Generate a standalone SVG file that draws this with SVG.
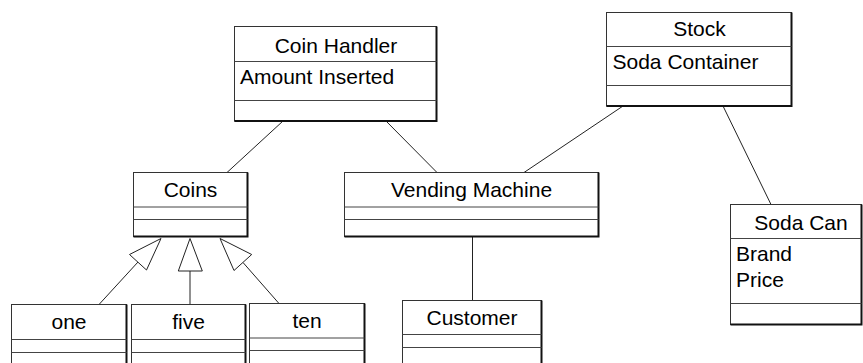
<svg xmlns="http://www.w3.org/2000/svg" width="863" height="363" viewBox="0 0 863 363">
  <style>
    .box { fill: #fff; stroke: #333; stroke-width: 1; }
    .edge { stroke: #111; stroke-width: 2; fill: none; }
    .div { stroke: #444; stroke-width: 1; }
    .t { font-family: "Liberation Sans", Arial, sans-serif; font-size: 21px; fill: #000; }
    .c { text-anchor: middle; }
    .link { stroke: #222; stroke-width: 1; fill: none; }
    .gen { fill: #fff; stroke: #222; stroke-width: 1; }
  </style>
  <rect width="863" height="363" fill="#fff"/>

  <!-- connectors -->
  <g id="connectors">
    <line class="link" x1="283" y1="121" x2="227" y2="172.5"/>
    <line class="link" x1="386" y1="121" x2="437" y2="172.5"/>
    <line class="link" x1="623" y1="106" x2="524" y2="172.5"/>
    <line class="link" x1="723" y1="106" x2="771" y2="204.5"/>
    <line class="link" x1="472.5" y1="237" x2="472.5" y2="300.5"/>
    <!-- generalizations to Coins -->
    <line class="link" x1="99" y1="304.5" x2="138" y2="262"/>
    <polygon class="gen" points="161,238.5 129.5,254.5 146.5,270"/>
    <line class="link" x1="190" y1="304.5" x2="190" y2="271"/>
    <polygon class="gen" points="190,238.5 178.3,271 202.3,271"/>
    <line class="link" x1="279" y1="303.5" x2="243" y2="262.5"/>
    <polygon class="gen" points="220,238.5 251.7,254.5 234,270.5"/>
  </g>

  <g id="coin-handler">
    <rect class="box" x="234.5" y="26.5" width="202" height="94.5"/>
    <polyline class="edge" points="234.5,121 436.5,121 436.5,26.5"/>
    <line class="div" x1="234.5" y1="61.5" x2="436.5" y2="61.5"/>
    <line class="div" x1="234.5" y1="100.5" x2="436.5" y2="100.5"/>
    <text class="t c" x="336" y="53">Coin Handler</text>
    <text class="t" x="240" y="84">Amount Inserted</text>
  </g>

  <g id="stock">
    <rect class="box" x="606.5" y="12.5" width="185" height="93.5"/>
    <polyline class="edge" points="606.5,106 791.5,106 791.5,12.5"/>
    <line class="div" x1="606.5" y1="46.5" x2="791.5" y2="46.5"/>
    <line class="div" x1="606.5" y1="85.5" x2="791.5" y2="85.5"/>
    <text class="t c" x="699.5" y="36">Stock</text>
    <text class="t" x="612.5" y="69">Soda Container</text>
  </g>

  <g id="coins">
    <rect class="box" x="133.5" y="172.5" width="114" height="64"/>
    <polyline class="edge" points="133.5,236.5 247.5,236.5 247.5,172.5"/>
    <line class="div" x1="133.5" y1="207" x2="247.5" y2="207"/>
    <line class="div" x1="133.5" y1="219.5" x2="247.5" y2="219.5"/>
    <text class="t c" x="190.5" y="197">Coins</text>
  </g>

  <g id="vending-machine">
    <rect class="box" x="344.5" y="172.5" width="254" height="64"/>
    <polyline class="edge" points="344.5,236.5 598.5,236.5 598.5,172.5"/>
    <line class="div" x1="344.5" y1="207" x2="598.5" y2="207"/>
    <line class="div" x1="344.5" y1="219.5" x2="598.5" y2="219.5"/>
    <text class="t c" x="471.5" y="197">Vending Machine</text>
  </g>

  <g id="soda-can">
    <rect class="box" x="730.5" y="204.5" width="131" height="120"/>
    <polyline class="edge" points="730.5,324.5 861.5,324.5 861.5,204.5"/>
    <line class="div" x1="730.5" y1="238.5" x2="861.5" y2="238.5"/>
    <line class="div" x1="730.5" y1="303.5" x2="861.5" y2="303.5"/>
    <text class="t c" x="801" y="229.5">Soda Can</text>
    <text class="t" x="736" y="261">Brand</text>
    <text class="t" x="736" y="286.5">Price</text>
  </g>

  <g id="customer">
    <rect class="box" x="402.5" y="300.5" width="139" height="80"/>
    <line class="edge" x1="541.5" y1="300.5" x2="541.5" y2="380"/>
    <line class="div" x1="402.5" y1="334.5" x2="541.5" y2="334.5"/>
    <line class="div" x1="402.5" y1="347.5" x2="541.5" y2="347.5"/>
    <text class="t c" x="472" y="324.5">Customer</text>
  </g>

  <g id="one">
    <rect class="box" x="11.5" y="304.5" width="115" height="80"/>
    <line class="edge" x1="126.5" y1="304.5" x2="126.5" y2="384"/>
    <line class="div" x1="11.5" y1="339.5" x2="126.5" y2="339.5"/>
    <line class="div" x1="11.5" y1="352.5" x2="126.5" y2="352.5"/>
    <text class="t c" x="69" y="329">one</text>
  </g>

  <g id="five">
    <rect class="box" x="131.5" y="304.5" width="114" height="80"/>
    <line class="edge" x1="245.5" y1="304.5" x2="245.5" y2="384"/>
    <line class="div" x1="131.5" y1="339.5" x2="245.5" y2="339.5"/>
    <line class="div" x1="131.5" y1="352.5" x2="245.5" y2="352.5"/>
    <text class="t c" x="188.5" y="329">five</text>
  </g>

  <g id="ten">
    <rect class="box" x="249.5" y="303.5" width="115" height="80"/>
    <line class="edge" x1="364.5" y1="303.5" x2="364.5" y2="383"/>
    <line class="div" x1="249.5" y1="338" x2="364.5" y2="338"/>
    <line class="div" x1="249.5" y1="350.5" x2="364.5" y2="350.5"/>
    <text class="t c" x="307" y="327.5">ten</text>
  </g>
</svg>
